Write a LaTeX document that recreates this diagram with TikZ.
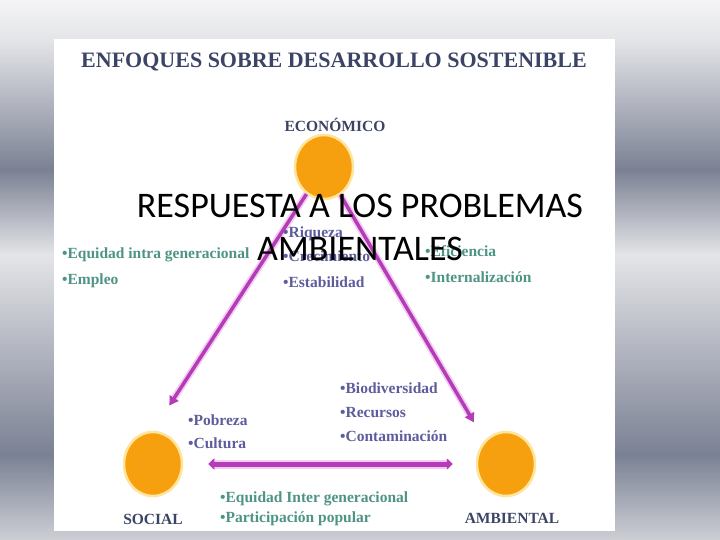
\documentclass[tikz,border=0pt]{standalone}
\usepackage{fontspec}
\setmainfont{Liberation Serif}
\newfontfamily\slidefont{Carlito}
\usetikzlibrary{positioning,arrows.meta,shapes.geometric}

\definecolor{naranja}{HTML}{F6A010}
\definecolor{brillo}{HTML}{FFE49A}
\definecolor{titulo}{HTML}{3C4466}
\definecolor{morado}{HTML}{5D5C9C}
\definecolor{verdeazul}{HTML}{4E9484}
\definecolor{fucsia}{HTML}{B43CB8}
\definecolor{rosa}{HTML}{F4CCF2}
\definecolor{bgT}{HTML}{F4F4F5}
\definecolor{bgL}{HTML}{E4E5E8}
\definecolor{bgD}{HTML}{7B8194}
\definecolor{bgC}{HTML}{CDCFD5}

% bandas del fondo (25bp = abajo, 75bp = arriba)
\pgfdeclareverticalshading{slidebg}{100bp}{color(0bp)=(bgC); color(25bp)=(bgC); color(32.9bp)=(bgD); color(51.4bp)=(bgL); color(59.3bp)=(bgD); color(71.3bp)=(bgL); color(75bp)=(bgT); color(100bp)=(bgT)}

\begin{document}
\begin{tikzpicture}[x=1pt,y=-1pt]
	\tikzstyle{blob} = [ellipse,fill=naranja,draw=brillo,line width=2.5pt,minimum width=58pt,minimum height=64pt,inner sep=0pt]
	\tikzstyle{vertice} = [inner sep=0pt,anchor=base,text=titulo,font=\bfseries\fontsize{15.5}{15.5}\selectfont]
	\tikzstyle{lista} = [inner sep=0pt,align=left,anchor=base west]
	\tikzstyle{flecha} = [draw=fucsia,line width=3.5pt,preaction={draw=rosa,line width=7pt},-{Triangle[length=9pt,width=10pt]}]
	
		\shade[shading=slidebg] (0,0) rectangle (720,540);
		\fill[white] (54,39) rectangle (615,531);
		\useasboundingbox (0,0) rectangle (720,540);
		
		\node[inner sep=0pt,text=titulo,font=\bfseries\fontsize{22}{22}\selectfont] (titulo) at (334,62){ENFOQUES SOBRE DESARROLLO SOSTENIBLE};
		
		\node[blob] (eco) at (324,167){};
		\node[blob] (soc) at (153,464){};
		\node[blob] (amb) at (506,464){};
		
		\node[vertice] (leco) at ([xshift=11pt,yshift=2pt]eco.north){ECONÓMICO};
		\node[vertice] (lsoc) at ([yshift=-27pt]soc.south){SOCIAL};
		\node[vertice] (lamb) at ([xshift=6pt,yshift=-26pt]amb.south){AMBIENTAL};
		
		\draw[flecha,shorten >=30pt] (eco) -- (soc.north);
		\draw[flecha,shorten >=21pt] (eco) -- (amb.north west);
		\draw[flecha,line width=5pt,preaction={draw=rosa,line width=9pt},{Triangle[length=6pt,width=11pt]}-{Triangle[length=6pt,width=11pt]},shorten <=25pt,shorten >=23pt] (soc) -- (amb);
		
		\node[lista,text=verdeazul,font=\bfseries\fontsize{15.5}{26}\selectfont] (izq) at (62,284){•Equidad intra generacional\\•Empleo};
		\node[lista,text=morado,font=\bfseries\fontsize{15.5}{25}\selectfont] (centro) at (283,287){•Riqueza\\•Crecimiento\\•Estabilidad};
		\node[lista,text=verdeazul,font=\bfseries\fontsize{15.5}{26}\selectfont] (der) at (425,282){•Eficiencia\\•Internalización};
		\node[lista,text=morado,font=\bfseries\fontsize{15.5}{23}\selectfont] (pob) at (188,448){•Pobreza\\•Cultura};
		\node[lista,text=morado,font=\bfseries\fontsize{15.5}{24}\selectfont] (bio) at (340,441){•Biodiversidad\\•Recursos\\•Contaminación};
		\node[lista,text=verdeazul,font=\bfseries\fontsize{15.5}{20}\selectfont] (abajo) at (220,522){•Equidad Inter generacional\\•Participación popular};
		
		\node[align=center,inner sep=0pt,font=\slidefont\fontsize{36}{43}\selectfont] (resp) at (360,227){RESPUESTA A LOS PROBLEMAS\\AMBIENTALES};
		
\end{tikzpicture}
\end{document}
